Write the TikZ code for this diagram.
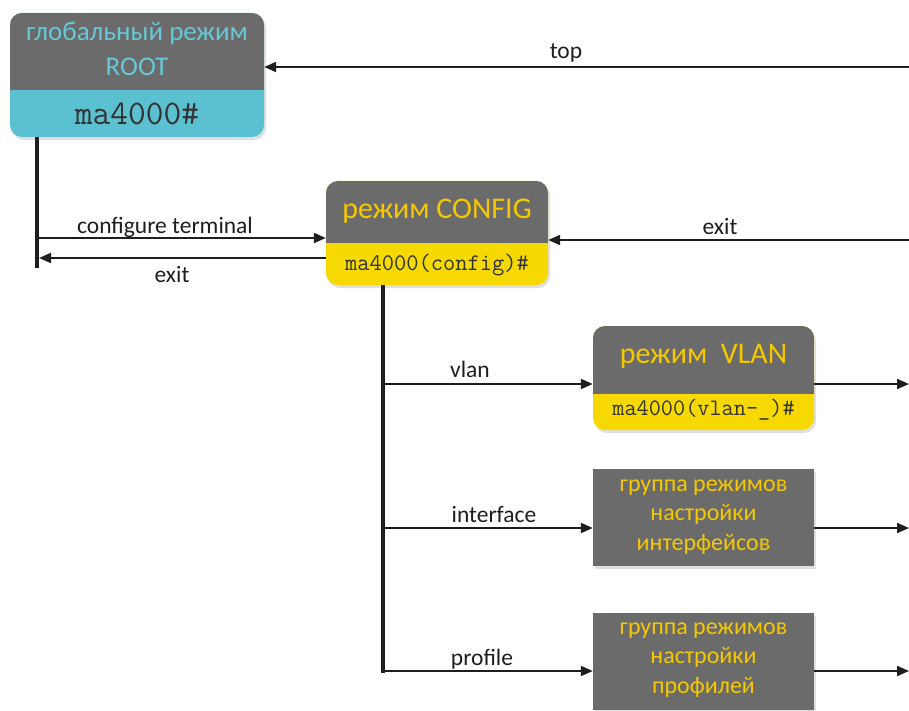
\documentclass[tikz,border=0pt]{standalone}
\usepackage{fontspec}
\setmainfont{Carlito}
\usetikzlibrary{arrows.meta,shadows}
\definecolor{boxgray}{HTML}{6B6B6B}
\definecolor{rootcyan}{HTML}{5BC0CF}
\definecolor{cyantext}{HTML}{66C8D8}
\definecolor{cfgyellow}{HTML}{F5D900}
\definecolor{yeltext}{HTML}{F5C800}
\definecolor{linecol}{HTML}{1E1E1E}
\tikzset{
  rbox/.style={rounded corners=12pt, minimum width=#1, draw=none, inner sep=0pt,
     drop shadow={opacity=0.25, shadow xshift=2pt, shadow yshift=-3pt}},
  sbox/.style={fill=boxgray, minimum width=221pt, minimum height=97pt, inner sep=0pt,
     drop shadow={opacity=0.25, shadow xshift=2pt, shadow yshift=-3pt}},
  lbl/.style={font=\fontsize{23.5}{26}\selectfont, text=linecol, inner sep=0pt},
  ttl/.style={font=\fontsize{#1}{#1}\selectfont, inner sep=0pt},
  mono/.style={font=\ttfamily\fontsize{#1}{#1}\selectfont, text=black!80, inner sep=0pt},
  grp/.style={align=center, text=yeltext, font=\fontsize{24}{29.5}\selectfont, inner sep=0pt},
  arr/.style={draw=linecol, line width=2pt, -{Triangle[length=12pt,width=10pt]}},
  trunk/.style={draw=linecol, line width=4pt},
}
\begin{document}
\begin{tikzpicture}[x=1pt,y=-1pt]
\useasboundingbox (0,0) rectangle (909,711);

% ROOT box
\node[rbox=254pt, minimum height=124pt, fill=rootcyan] (root) at (137,75) {};
\begin{scope}
  \clip[rounded corners=12pt] (10,13) rectangle (264,137);
  \fill[boxgray] (10,13) rectangle (264,90);
\end{scope}
\node[ttl=27, text=cyantext] (rootT1) at (137,33) {глобальный режим};
\node[ttl=27, text=cyantext] (rootT2) at (137,67) {ROOT};
\node[mono=34.5] (rootP) at (137,114) {ma4000\#};

% CONFIG box
\node[rbox=222pt, minimum height=104pt, fill=cfgyellow] (cfg) at (437,233) {};
\begin{scope}
  \clip[rounded corners=12pt] (326,181) rectangle (548,285);
  \fill[boxgray] (326,181) rectangle (548,243);
\end{scope}
\node[ttl=30, text=yeltext] (cfgT) at (437,211) {режим CONFIG};
\node[mono=23.8] (cfgP) at (437,265) {ma4000(config)\#};

% VLAN box
\node[rbox=221pt, minimum height=104pt, fill=cfgyellow] (vlan) at (703.5,378) {};
\begin{scope}
  \clip[rounded corners=12pt] (593,326) rectangle (814,430);
  \fill[boxgray] (593,326) rectangle (814,394);
\end{scope}
\node[ttl=30, text=yeltext] (vlanT) at (703.5,356) {режим\ \ VLAN};
\node[mono=23.6] (vlanP) at (703.5,410) {ma4000(vlan-\_)\#};

% group boxes
\node[sbox] (ifc) at (703.5,517.5) {};
\node[grp] (ifcT) at (703.5,517) {группа режимов\\настройки\\интерфейсов};
\node[sbox] (prf) at (703.5,661.5) {};
\node[grp] (prfT) at (703.5,660) {группа режимов\\настройки\\профилей};

% coordinates
\coordinate (t1top) at (37,137);
\coordinate (t1bot) at (37,268);
\coordinate (ctA) at (37,238);
\coordinate (exA) at (39,258);
\coordinate (topR) at (909,67);
\coordinate (exR) at (909,240);
\coordinate (t2top) at (383,285);
\coordinate (t2bot) at (383,673);
\coordinate (vA) at (383,384);
\coordinate (iA) at (383,528);
\coordinate (pA) at (383,671);
\coordinate (vR) at (909,384);
\coordinate (iR) at (909,528);
\coordinate (pR) at (909,671);

% trunks
\draw[trunk] (t1top) -- (t1bot);
\draw[trunk] (t2top) -- (t2bot);

% connectors
\draw[arr] (ctA) -- (ctA -| cfg.west);
\draw[arr] (exA -| cfg.west) -- (exA);
\draw[arr] (topR) -- (topR -| root.east);
\draw[arr] (exR) -- (exR -| cfg.east);
\draw[arr] (vA) -- (vA -| vlan.west);
\draw[arr] (iA) -- (iA -| ifc.west);
\draw[arr] (pA) -- (pA -| prf.west);
\draw[arr] (vA -| vlan.east) -- (vR);
\draw[arr] (iA -| ifc.east) -- (iR);
\draw[arr] (pA -| prf.east) -- (pR);

% labels
\node[lbl] (lct) at (165,227) {configure terminal};
\node[lbl] (lex1) at (172,275) {exit};
\node[lbl] (ltop) at (566,53) {top};
\node[lbl] (lex2) at (720,227) {exit};
\node[lbl] (lvlan) at (470,369) {vlan};
\node[lbl] (lifc) at (494,514) {interface};
\node[lbl] (lprf) at (482,659) {profile};
\end{tikzpicture}
\end{document}
